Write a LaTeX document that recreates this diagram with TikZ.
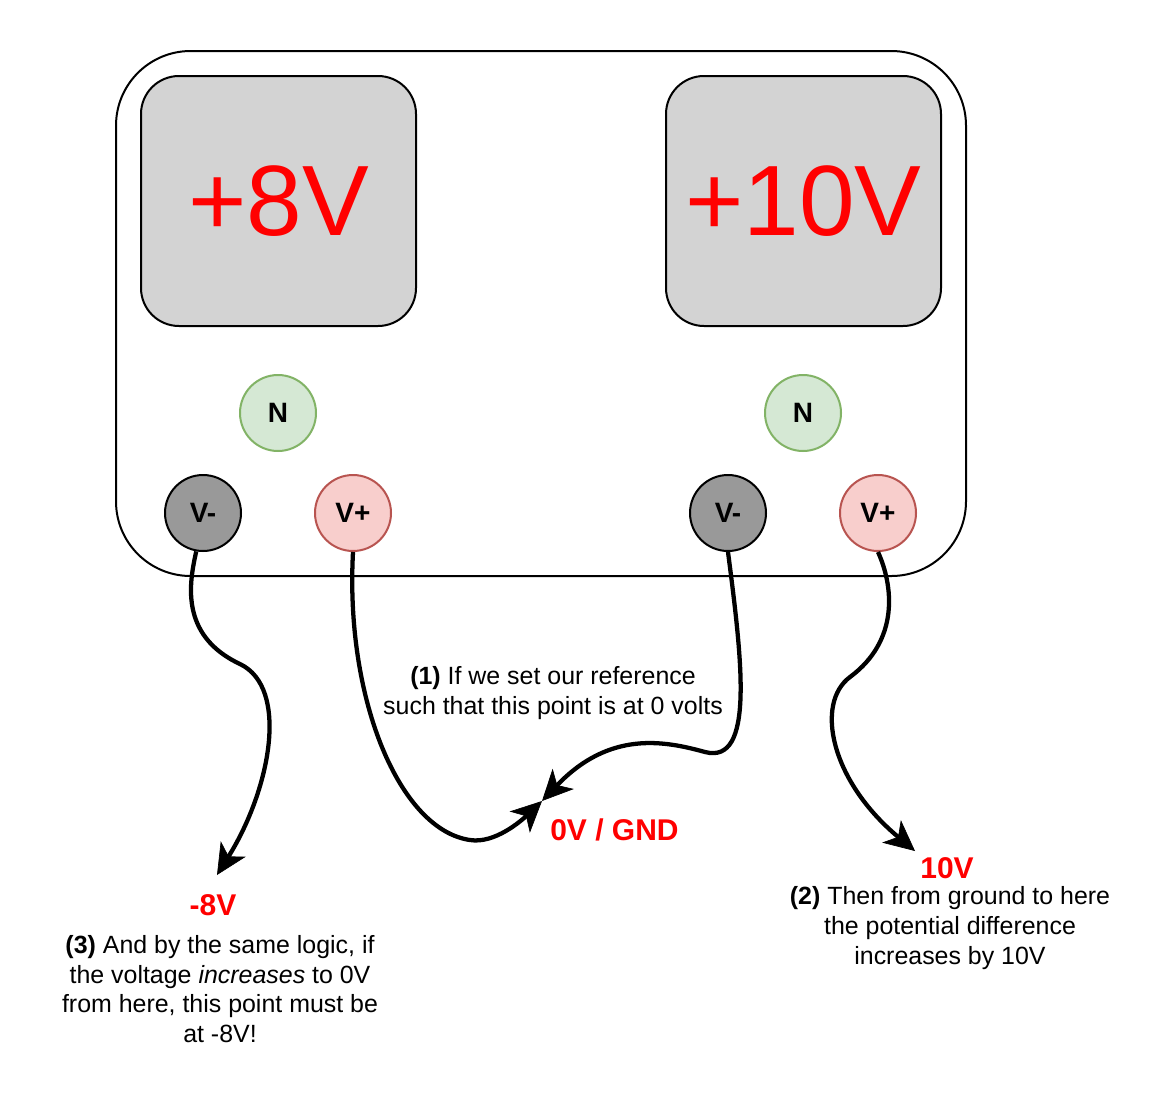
\documentclass[tikz,border=0pt]{standalone}
\usepackage{fontspec}
\setmainfont{Liberation Sans}
\usetikzlibrary{arrows.meta}
\definecolor{dispgray}{HTML}{D3D3D3}
\definecolor{ngreen}{HTML}{D5E8D4}
\definecolor{ngreenl}{HTML}{82B366}
\definecolor{vmgray}{HTML}{999999}
\definecolor{vpred}{HTML}{F8CECC}
\definecolor{vpredl}{HTML}{B85450}
\definecolor{lblred}{HTML}{FF0000}
\begin{document}
\begin{tikzpicture}[x=0.75pt,y=-0.75pt,
  casebox/.style={draw=black, line width=1.5pt, rounded corners=56pt, minimum width=637.5pt, minimum height=393.75pt, inner sep=0pt},
  display/.style={draw=black, fill=dispgray, line width=1.5pt, rounded corners=28.5pt, minimum width=206.25pt, minimum height=187.5pt, inner sep=0pt, text=lblred, font=\fontsize{75}{80}\selectfont},
  term/.style={circle, line width=1.5pt, minimum size=57pt, inner sep=0pt, font=\fontsize{21}{24}\selectfont\bfseries},
  nterm/.style={term, draw=ngreenl, fill=ngreen},
  vmterm/.style={term, draw=black, fill=vmgray},
  vpterm/.style={term, draw=vpredl, fill=vpred},
  wire/.style={line width=3.2pt, -{Stealth[length=23pt,width=22pt,inset=6.5pt,line width=0.5pt]}},
  note/.style={align=center, inner sep=0pt, font=\fontsize{18.7}{22.2}\selectfont},
  vlabel/.style={inner sep=0pt, text=lblred, font=\fontsize{22.5}{26}\selectfont\bfseries},
]
\useasboundingbox (0,0) rectangle (1170,1100);
\node[casebox] (case) at (541,313.5) {};
\node[display] (dispL) at (278.5,201) {+8V};
\node[display] (dispR) at (803.5,201) {+10V};
\node[nterm] (nL) at (278,413) {N};
\node[nterm] (nR) at (803,413) {N};
\node[vmterm] (vmL) at (203,513) {V-};
\node[vpterm] (vpL) at (353,513) {V+};
\node[vmterm] (vmR) at (728,513) {V-};
\node[vpterm] (vpR) at (878,513) {V+};
\coordinate (tipL) at (217,875);
\coordinate (gnd) at (542,801);
\coordinate (tipR) at (915,851);
\draw[wire] (vmL.-100) .. controls (190,580) and (178,635) .. (240,664)
  .. controls (290,688) and (270,790) .. (tipL);
\draw[wire] (vpL.south) .. controls (345,700) and (400,830) .. (470,840)
  .. controls (495,844) and (522,820) .. (gnd);
\draw[wire] (vmR.south) .. controls (742,660) and (755,765) .. (705,752)
  .. controls (665,741) and (610,730) .. (gnd);
\draw[wire] (vpR.south) .. controls (893,585) and (900,640) .. (850,677)
  .. controls (815,703) and (830,780) .. (tipR);
\node[note] (n1) at (553,693) {\textbf{(1)} If we set our reference\\such that this point is at 0 volts};
\node[vlabel, anchor=base west] (gndl) at (550,840) {0V / GND};
\node[vlabel, anchor=base] (m8) at (213,915) {-8V};
\node[note] (n3) at (220,989) {\textbf{(3)} And by the same logic, if\\the voltage \textit{increases} to 0V\\from here, this point must be\\at -8V!};
\node[vlabel, anchor=base] (p10) at (947,878) {10V};
\node[note] (n2) at (950,928) {\textbf{(2)} Then from ground to here\\the potential difference\\increases by 10V};
\end{tikzpicture}
\end{document}
